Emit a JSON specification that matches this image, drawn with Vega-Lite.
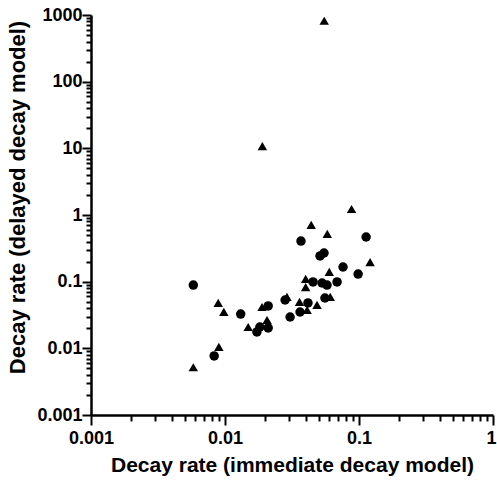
{
  "$schema": "https://vega.github.io/schema/vega-lite/v6.json",
  "width": 402,
  "height": 400,
  "autosize": "none",
  "padding": {"left": 91, "top": 15, "right": 4, "bottom": 66},
  "background": "white",
  "config": {"view": {"stroke": null}, "axis": {"tickDash": [], "tickOpacity": 1, "tickOffset": 0, "ticks": true}},
  "data": {"values": [
    {"group": "triangle", "x": 0.055, "y": 820},
    {"group": "triangle", "x": 0.019, "y": 10.8},
    {"group": "triangle", "x": 0.088, "y": 1.23},
    {"group": "triangle", "x": 0.044, "y": 0.71},
    {"group": "triangle", "x": 0.058, "y": 0.52},
    {"group": "triangle", "x": 0.121, "y": 0.197},
    {"group": "triangle", "x": 0.06, "y": 0.14},
    {"group": "triangle", "x": 0.04, "y": 0.11},
    {"group": "triangle", "x": 0.04, "y": 0.083},
    {"group": "triangle", "x": 0.061, "y": 0.059},
    {"group": "triangle", "x": 0.036, "y": 0.0496},
    {"group": "triangle", "x": 0.0486, "y": 0.0447},
    {"group": "triangle", "x": 0.041, "y": 0.0376},
    {"group": "triangle", "x": 0.029, "y": 0.059},
    {"group": "triangle", "x": 0.0189, "y": 0.0417},
    {"group": "triangle", "x": 0.0089, "y": 0.0479},
    {"group": "triangle", "x": 0.0098, "y": 0.0351},
    {"group": "triangle", "x": 0.0206, "y": 0.0266},
    {"group": "triangle", "x": 0.0149, "y": 0.0209},
    {"group": "triangle", "x": 0.009, "y": 0.0105},
    {"group": "triangle", "x": 0.0058, "y": 0.0052},
    {"group": "circle", "x": 0.0058, "y": 0.089},
    {"group": "circle", "x": 0.0369, "y": 0.407},
    {"group": "circle", "x": 0.113, "y": 0.468},
    {"group": "circle", "x": 0.0512, "y": 0.243},
    {"group": "circle", "x": 0.0548, "y": 0.269},
    {"group": "circle", "x": 0.076, "y": 0.166},
    {"group": "circle", "x": 0.0985, "y": 0.13},
    {"group": "circle", "x": 0.0454, "y": 0.099},
    {"group": "circle", "x": 0.053, "y": 0.0955},
    {"group": "circle", "x": 0.0577, "y": 0.089},
    {"group": "circle", "x": 0.0686, "y": 0.099},
    {"group": "circle", "x": 0.0557, "y": 0.0569},
    {"group": "circle", "x": 0.0281, "y": 0.0531},
    {"group": "circle", "x": 0.0416, "y": 0.0479},
    {"group": "circle", "x": 0.0363, "y": 0.0351},
    {"group": "circle", "x": 0.0306, "y": 0.0295},
    {"group": "circle", "x": 0.021, "y": 0.0432},
    {"group": "circle", "x": 0.0131, "y": 0.0327},
    {"group": "circle", "x": 0.0173, "y": 0.0176},
    {"group": "circle", "x": 0.021, "y": 0.0202},
    {"group": "circle", "x": 0.0182, "y": 0.0209},
    {"group": "circle", "x": 0.0083, "y": 0.0077}
  ]},
  "resolve": {"axis": {"x": "independent", "y": "independent"}},
  "layer": [
    {
      "mark": {"type": "point", "filled": true, "opacity": 0, "size": 1},
      "encoding": {
        "x": {
          "field": "x", "type": "quantitative",
          "scale": {"type": "log", "domain": [0.001, 1], "nice": false},
          "axis": {
            "orient": "bottom", "title": null, "labels": false, "domain": false, "grid": false, "ticks": true,
            "values": [0.002,0.003,0.004,0.005,0.006,0.007,0.008,0.009,0.02,0.03,0.04,0.05,0.06,0.07,0.08,0.09,0.2,0.3,0.4,0.5,0.6,0.7,0.8,0.9],
            "tickSize": 6, "tickWidth": 2, "tickColor": "black", "tickDash": [], "tickOpacity": 1, "tickOffset": 0
          }
        },
        "y": {
          "field": "y", "type": "quantitative",
          "scale": {"type": "log", "domain": [0.001, 1000], "nice": false},
          "axis": {
            "orient": "left", "title": null, "labels": false, "domain": false, "grid": false, "ticks": true,
            "values": [0.002,0.003,0.004,0.005,0.006,0.007,0.008,0.009,0.02,0.03,0.04,0.05,0.06,0.07,0.08,0.09,0.2,0.3,0.4,0.5,0.6,0.7,0.8,0.9,2,3,4,5,6,7,8,9,20,30,40,50,60,70,80,90,200,300,400,500,600,700,800,900],
            "tickSize": 5, "tickWidth": 2, "tickColor": "black", "tickDash": [], "tickOpacity": 1, "tickOffset": 0
          }
        }
      }
    },
    {
      "mark": {"type": "point", "filled": true, "opacity": 0, "size": 1},
      "encoding": {
        "x": {
          "field": "x", "type": "quantitative",
          "scale": {"type": "log", "domain": [0.001, 1], "nice": false},
          "axis": {
            "orient": "bottom", "title": null, "domain": false, "grid": false, "ticks": false,
            "values": [1], "labelExpr": "format(datum.value, '~g')",
            "labelAlign": "right", "labelOffset": 3, "labelFlush": false,
            "labelFont": "Liberation Sans", "labelFontSize": 18, "labelFontWeight": "bold", "labelColor": "black", "labelPadding": 14
          }
        },
        "y": {
          "field": "y", "type": "quantitative",
          "scale": {"type": "log", "domain": [0.001, 1000], "nice": false},
          "axis": null
        }
      }
    },
    {
      "mark": {"type": "point", "filled": true, "opacity": 1, "color": "black", "size": 90},
      "encoding": {
        "x": {
          "field": "x", "type": "quantitative",
          "scale": {"type": "log", "domain": [0.001, 1], "nice": false},
          "axis": {
            "orient": "bottom",
            "title": "Decay rate (immediate decay model)",
            "values": [0.001, 0.01, 0.1, 1],
            "labelExpr": "datum.value == 1 ? '' : format(datum.value, '~g')",
            "ticks": true, "tickSize": 10, "grid": false, "labelFlush": false, "labelOverlap": false,
            "domainColor": "black", "domainWidth": 2.5, "tickColor": "black", "tickWidth": 2, "tickDash": [], "tickOpacity": 1, "tickOffset": 0,
            "labelFont": "Liberation Sans", "labelFontSize": 18, "labelFontWeight": "bold", "labelColor": "black", "labelPadding": 4,
            "titleFont": "Liberation Sans", "titleFontSize": 21, "titleFontWeight": "bold", "titleColor": "black", "titlePadding": 7
          }
        },
        "y": {
          "field": "y", "type": "quantitative",
          "scale": {"type": "log", "domain": [0.001, 1000], "nice": false},
          "axis": {
            "orient": "left",
            "title": "Decay rate  (delayed decay model)",
            "values": [0.001, 0.01, 0.1, 1, 10, 100, 1000],
            "labelExpr": "format(datum.value, '~g')",
            "ticks": true, "tickSize": 9, "grid": false, "labelFlush": false, "labelOverlap": false,
            "domainColor": "black", "domainWidth": 2.5, "tickColor": "black", "tickWidth": 2, "tickDash": [], "tickOpacity": 1, "tickOffset": 0,
            "labelFont": "Liberation Sans", "labelFontSize": 18, "labelFontWeight": "bold", "labelColor": "black", "labelPadding": 0,
            "titleFont": "Liberation Sans", "titleFontSize": 22, "titleFontWeight": "bold", "titleColor": "black", "titleY": 182, "titleX": -62
          }
        },
        "shape": {
          "field": "group", "type": "nominal",
          "scale": {"domain": ["circle", "triangle"], "range": ["circle", "triangle-up"]},
          "legend": null
        }
      }
    }
  ]
}
